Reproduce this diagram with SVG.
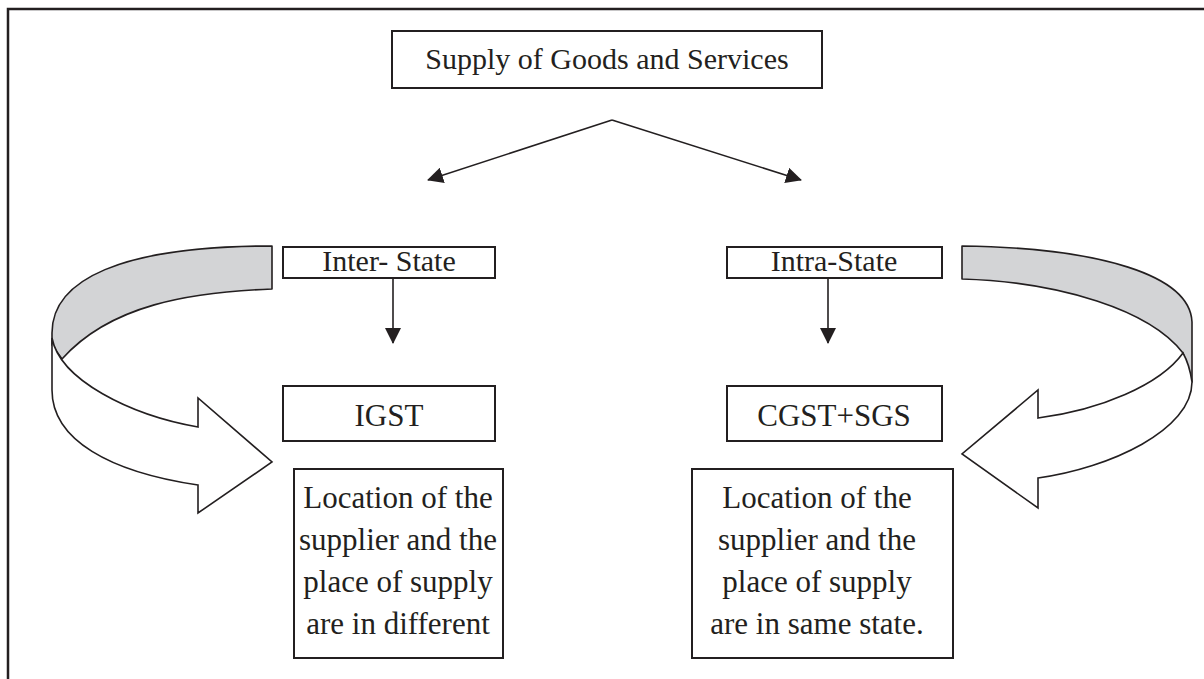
<svg xmlns="http://www.w3.org/2000/svg" width="1204" height="679" viewBox="0 0 1204 679">
<style>
.box{fill:#fff;stroke:#231f20;stroke-width:2}
.t{font-family:"Liberation Serif","Times New Roman",serif;font-size:30px;fill:#231f20;text-anchor:middle}
.tb{font-family:"Liberation Serif","Times New Roman",serif;font-size:31px;fill:#231f20;text-anchor:middle}
.conn{fill:none;stroke:#231f20;stroke-width:1.6}
.band{fill:#d3d4d6;stroke:#231f20;stroke-width:1.6;stroke-linejoin:round}
.face{fill:#fff;stroke:#231f20;stroke-width:1.6;stroke-linejoin:miter}
</style>
<defs>
<marker id="ah" viewBox="0 0 16 16" refX="15" refY="8" markerWidth="16" markerHeight="16" markerUnits="userSpaceOnUse" orient="auto">
<path d="M0,0 L16,8 L0,16 Z" fill="#231f20"/>
</marker>
</defs>
<rect width="1204" height="679" fill="#fff"/>
<path d="M8,679 L8,9 L1204,9" fill="none" stroke="#231f20" stroke-width="2.5"/>

<g id="curve-left">
<path class="band" d="M272,246 C120,246 52,280 52,333 L52,345 L62,359 C110,305 190,292 272,289 Z"/>
<path class="face" d="M52,338 C60,380 130,415 198,427 L198,398 L272,462 L198,513 L198,485 C110,472 52,440 52,390 Z"/>
</g>
<g id="curve-right">
<path class="band" d="M962,246 C1100,248 1190,275 1192,322 L1192,382 L1183,353 C1150,310 1060,282 962,279 Z"/>
<path class="face" d="M1183,353 C1160,385 1100,410 1038,418 L1038,390 L962,454 L1038,508 L1038,478 C1110,468 1192,430 1192,382 C1190,368 1187,360 1183,353 Z"/>
</g>

<g id="connectors">
<path class="conn" d="M612,120 L428,180" marker-end="url(#ah)"/>
<path class="conn" d="M612,120 L801,180" marker-end="url(#ah)"/>
<path class="conn" d="M393,278 L393,343" marker-end="url(#ah)"/>
<path class="conn" d="M828,278 L828,343" marker-end="url(#ah)"/>
</g>

<g id="supply">
<rect class="box" x="392" y="31" width="430" height="57"/>
<text class="t" x="607" y="69">Supply of Goods and Services</text>
</g>
<g id="inter-state">
<rect class="box" x="283" y="247" width="212" height="31"/>
<text class="t" x="389" y="271">Inter- State</text>
</g>
<g id="intra-state">
<rect class="box" x="727" y="247" width="215" height="31"/>
<text class="t" x="834" y="271">Intra-State</text>
</g>
<g id="igst">
<rect class="box" x="283" y="386" width="212" height="55"/>
<text class="tb" x="389" y="426">IGST</text>
</g>
<g id="cgst-sgs">
<rect class="box" x="727" y="386" width="215" height="55"/>
<text class="tb" x="834" y="426">CGST+SGS</text>
</g>
<g id="desc-left">
<rect class="box" x="294" y="469" width="209" height="189"/>
<text class="tb" x="398" y="508">Location of the</text>
<text class="tb" x="398" y="550">supplier and the</text>
<text class="tb" x="398" y="592">place of supply</text>
<text class="tb" x="398" y="634">are in different</text>
</g>
<g id="desc-right">
<rect class="box" x="692" y="469" width="261" height="189"/>
<text class="tb" x="817" y="508">Location of the</text>
<text class="tb" x="817" y="550">supplier and the</text>
<text class="tb" x="817" y="592">place of supply</text>
<text class="tb" x="817" y="634">are in same state.</text>
</g>
</svg>
